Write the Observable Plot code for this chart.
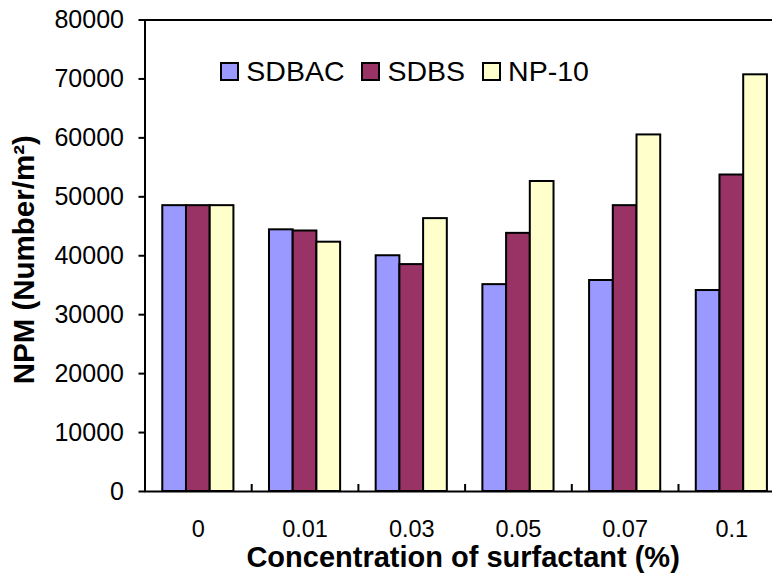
<!DOCTYPE html>
<html><head><meta charset="utf-8">
<script src="https://cdn.jsdelivr.net/npm/d3@7"></script>
<script src="https://cdn.jsdelivr.net/npm/@observablehq/plot@0.6"></script>
<style>
html,body{margin:0;padding:0;overflow:hidden;background:#fff;}
#wrap{position:relative;width:772px;height:575px;}
#legend{position:absolute;left:220px;top:61px;display:flex;font-family:"Liberation Sans",Arial,sans-serif;font-size:28.5px;color:#000;}
.item{display:flex;align-items:center;height:20px;margin-right:16.7px;line-height:1;}
.sw{width:15px;height:15px;border:2px solid #000;margin-right:7.3px;}
</style></head><body><div id="wrap"></div>
<script>
const categories = ["0", "0.01", "0.03", "0.05", "0.07", "0.1"];
const seriesNames = ["SDBAC", "SDBS", "NP-10"];
const sdbac = [48500, 44400, 40000, 35100, 35800, 34100];
const sdbs  = [48500, 44200, 38500, 43800, 48500, 53700];
const np10  = [48500, 42300, 46300, 52600, 60500, 70700];
const seriesColors = ["#9999ff", "#993366", "#ffffcc"];
const yTicks = [0, 10000, 20000, 30000, 40000, 50000, 60000, 70000, 80000];
const yTitle = "NPM (Number/m²)";
const xTitle = "Concentration of surfactant (%)";

const values = [sdbac, sdbs, np10];
const rows = categories.flatMap((c, ci) => seriesNames.map((s, si) => ({category: c, ci, series: s, si, value: values[si][ci]})));
const barW = 2 / 9, groupOffset = (1 - 3 * barW) / 2;
const font = '"Liberation Sans", Arial, sans-serif';

const plot = Plot.plot({
  width: 772, height: 575,
  marginLeft: 144.5, marginRight: -12.7, marginTop: 19.5, marginBottom: 84,
  style: {fontFamily: font, fontSize: "24px", color: "#000", background: "#fff", overflow: "hidden"},
  x: {domain: [0, categories.length], axis: null, label: null},
  y: {domain: [0, 80000], axis: null, label: null},
  color: {domain: seriesNames, range: seriesColors},
  marks: [
    Plot.rectY(rows, {
      x1: d => d.ci + groupOffset + d.si * barW,
      x2: d => d.ci + groupOffset + (d.si + 1) * barW,
      y1: 0, y2: "value", fill: "series", stroke: "#000", strokeWidth: 2
    }),
    Plot.frame({stroke: "#000", strokeWidth: 2}),
    Plot.axisY({ticks: yTicks, tickSize: 6, tickPadding: 15, strokeWidth: 2, tickFormat: "d", fontSize: 25, label: null}),
    Plot.axisX({ticks: d3.range(1, categories.length), tickSize: -7, tickFormat: () => "", strokeWidth: 2, label: null}),
    Plot.axisX({ticks: categories.map((c, i) => i + 0.5), tickSize: 0, tickPadding: 29, tickFormat: v => categories[Math.floor(v)], fontSize: 23.5, label: null}),
    Plot.text([xTitle], {frameAnchor: "bottom", dy: 66.5, dx: -2, fontSize: 29, fontWeight: "bold", lineAnchor: "middle", textAnchor: "middle"}),
    Plot.text([yTitle], {frameAnchor: "left", rotate: -90, dx: -120.8, dy: 4, fontSize: 29.5, fontWeight: "bold", lineAnchor: "middle", textAnchor: "middle"})
  ]
});
const wrap = document.getElementById("wrap");
wrap.appendChild(plot);

const legend = document.createElement("div");
legend.id = "legend";
seriesNames.forEach((s, i) => {
  const item = document.createElement("div");
  item.className = "item";
  const sw = document.createElement("div");
  sw.className = "sw";
  sw.style.background = seriesColors[i];
  const t = document.createElement("span");
  t.textContent = s;
  item.appendChild(sw); item.appendChild(t);
  legend.appendChild(item);
});
wrap.appendChild(legend);
</script></body></html>
